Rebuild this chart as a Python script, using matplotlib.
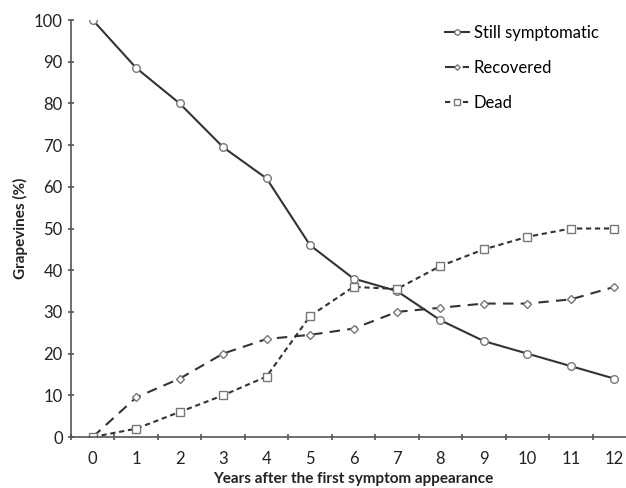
import matplotlib
matplotlib.use("Agg")
import matplotlib.pyplot as plt

plt.rcParams['font.family'] = ['Lato', 'DejaVu Sans']

years = list(range(13))
still = [100, 88.5, 80, 69.5, 62, 46, 38, 35, 28, 23, 20, 17, 14]
recovered = [0, 9.5, 14, 20, 23.5, 24.5, 26, 30, 31, 32, 32, 33, 36]
dead = [0, 2, 6, 10, 14.5, 29, 36, 35.5, 41, 45, 48, 50, 50]

fig = plt.figure(figsize=(6.26, 4.88), dpi=100)
ax = fig.add_axes([0.1134, 0.1045, 0.9026, 0.8545])

lc = "#333333"
mc = "#777777"
ax.plot(years, still, color=lc, lw=1.5, marker="o", ms=5.5, mfc="white", mec=mc, mew=1,
        label="Still symptomatic")
ax.plot(years, recovered, color=lc, lw=1.5, ls=(0, (5, 3.5)), marker="D", ms=4, mfc="white",
        mec=mc, mew=1, label="Recovered")
ax.plot(years, dead, color=lc, lw=1.5, ls=(0, (2.5, 1.8)), marker="s", ms=5.5, mfc="white",
        mec=mc, mew=1, label="Dead")

ax.set_xlim(-0.5, 12.5)
ax.set_ylim(0, 100)
ax.set_yticks(range(0, 101, 10))
ax.set_xticks(years)
ax.set_xticks([x + 0.5 for x in range(-1, 13)], minor=True)
ax.tick_params(axis="x", which="major", length=0, labelsize=12, pad=10, colors="#222222")
ax.tick_params(axis="x", which="minor", length=5, direction="inout", color="#555555", width=1.2)
ax.tick_params(axis="y", length=5, direction="inout", color="#555555", width=1.2,
               labelsize=12, labelcolor="#222222")

for s in ["top", "right"]:
    ax.spines[s].set_visible(False)
for s in ["left", "bottom"]:
    ax.spines[s].set_color("#555555")
    ax.spines[s].set_linewidth(1.2)

ax.set_ylabel("Grapevines (%)", fontsize=11, fontweight="bold", color="#222222")
ax.set_xlabel("Years after the first symptom appearance", fontsize=11, fontweight="bold",
              color="#222222", labelpad=4)

leg = ax.legend(loc="upper right", bbox_to_anchor=(0.96, 1.025), frameon=False, fontsize=12,
                handlelength=1.4, markerscale=0.7, labelspacing=1.15, handletextpad=0.3)

fig.savefig("out.png", dpi=100)
